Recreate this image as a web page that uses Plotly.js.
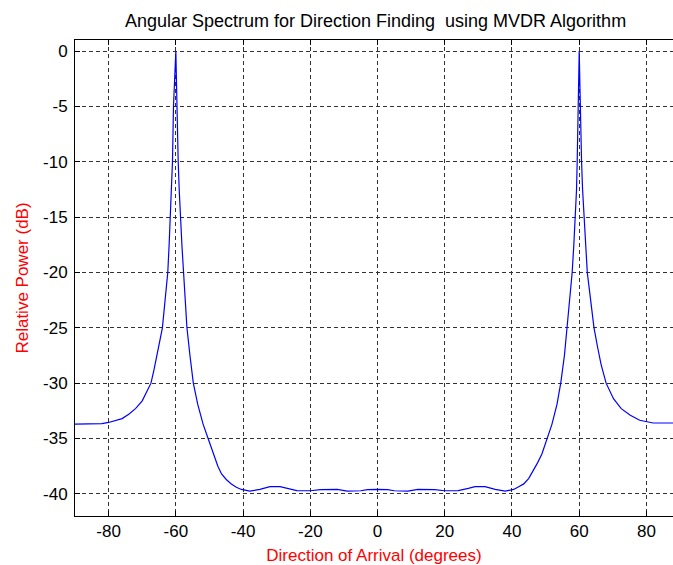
<!DOCTYPE html>
<html>
<head>
<meta charset="utf-8">
<script src="https://cdn.plot.ly/plotly-3.0.1.min.js"></script>
<style>html,body{margin:0;padding:0;background:#fff;overflow:hidden;}</style>
</head>
<body>
<div id="chart" style="width:673px;height:565px;"></div>
<script>
const angleDeg = [
  -90, -86, -82, -80, -78, -76, -74, -72, -70, -68.5, -67.4, -66.5, -65.5, -64.7, -64.0,
  -63.2, -62.4, -62.0, -61.6, -61.3, -61.0, -60.7, -60.4, -60.0,
  -59.8, -59.6, -59.3, -59.0, -58.7, -58.2, -57.7, -57.2, -56.7, -55.8, -54.8,
  -53.5, -51.9, -50.4, -48.9, -47.5, -46.4, -45, -43.5, -42, -40.5,
  -38, -35, -32, -29, -27, -24, -20, -17, -12, -9, -5, -3, 0,
  3, 5, 9, 12, 17, 20, 24, 27, 29, 32, 35, 38,
  40.5, 42, 43.5, 45, 46.4, 47.6, 48.9, 50.4, 51.9, 53.4, 54.5, 55.6, 56.4,
  57.2, 57.9, 58.4, 58.9, 59.2, 59.4, 59.7, 59.85, 60,
  60.2, 60.4, 60.7, 61.0, 61.4, 61.9, 62.4, 63.4, 64.4, 65.5, 66.5, 68,
  70.2, 72.5, 75.2, 78, 80.2, 82, 86, 90
];
const powerDb = [
  -33.7, -33.7, -33.65, -33.55, -33.4, -33.2, -32.8, -32.3, -31.6, -30.7, -30, -28.8, -27.3, -26, -25,
  -22.5, -20, -17.5, -15, -12.5, -10, -5, -2.6, 0,
  -3, -6.5, -10, -12.5, -15, -17.5, -20, -22.5, -25, -27.5, -30,
  -31.9, -33.7, -35.0, -36.4, -37.5, -38.2, -38.7, -39.1, -39.4, -39.6,
  -39.75, -39.6, -39.35, -39.35, -39.5, -39.7, -39.72, -39.62, -39.6, -39.75, -39.72, -39.62, -39.6,
  -39.62, -39.72, -39.75, -39.6, -39.62, -39.72, -39.7, -39.5, -39.35, -39.35, -39.6, -39.75,
  -39.6, -39.35, -39.1, -38.6, -37.9, -37.2, -36.4, -35.0, -33.7, -31.9, -30, -27.5, -25,
  -22.5, -20, -17.5, -15, -12.5, -10, -5, -2.6, 0,
  -3, -6.5, -10, -12.5, -15, -17.5, -20, -22.5, -25, -26.8, -28.3, -30,
  -31.4, -32.3, -32.9, -33.35, -33.5, -33.6, -33.6, -33.6
];
const xTickVals = [-80, -60, -40, -20, 0, 20, 40, 60, 80];
const xTickText = ["-80", "-60", "-40", "-20", "0", "20", "40", "60", "80"];
const yTickVals = [-40, -35, -30, -25, -20, -15, -10, -5, 0];
const yTickText = ["-40", "-35", "-30", "-25", "-20", "-15", "-10", "-5", "0"];

const font = "Liberation Sans, Arial, sans-serif";
const gridColor = "rgb(50,50,50)";

Plotly.newPlot("chart", [{
  x: angleDeg,
  y: powerDb,
  type: "scatter",
  mode: "lines",
  line: {color: "#0000ff", width: 1.2},
  hoverinfo: "skip"
}], {
  width: 673,
  height: 565,
  margin: {l: 75, r: 0, t: 40, b: 49},
  paper_bgcolor: "#fff",
  plot_bgcolor: "#fff",
  showlegend: false,
  title: {
    text: "Angular Spectrum for Direction Finding  using MVDR Algorithm",
    font: {family: font, size: 18, color: "#000"},
    x: 0.558, xanchor: "center", y: 0.964, yanchor: "middle"
  },
  xaxis: {
    range: [-90, 87.9],
    tickmode: "array", tickvals: xTickVals, ticktext: xTickText,
    ticks: "inside", ticklen: 5, tickcolor: "#000",
    showline: true, linecolor: "#000", linewidth: 1, mirror: "ticks",
    showgrid: true, gridcolor: gridColor, griddash: "4px,3px", gridwidth: 1,
    zeroline: false,
    tickfont: {family: font, size: 17, color: "#000"},
    title: {text: "Direction of Arrival (degrees)", font: {family: font, size: 17, color: "#ff0000"}, standoff: 8}
  },
  yaxis: {
    range: [-42, 1],
    tickmode: "array", tickvals: yTickVals, ticktext: yTickText,
    ticks: "inside", ticklen: 5, tickcolor: "#000",
    showline: true, linecolor: "#000", linewidth: 1, mirror: false,
    showgrid: true, gridcolor: gridColor, griddash: "4px,3px", gridwidth: 1,
    zeroline: false,
    ticklabelstandoff: 3,
    tickfont: {family: font, size: 17, color: "#000"},
    title: {text: "Relative Power (dB)", font: {family: font, size: 17, color: "#ff0000"}, standoff: 10}
  }
}, {displayModeBar: false, staticPlot: true});
</script>
</body>
</html>
